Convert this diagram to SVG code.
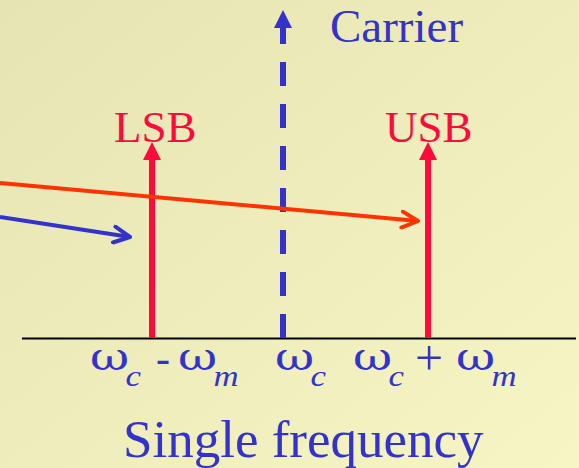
<svg xmlns="http://www.w3.org/2000/svg" width="579" height="468" viewBox="0 0 579 468">
<defs>
<linearGradient id="bg" x1="0" y1="0" x2="1" y2="1">
<stop offset="0" stop-color="#e6e4b2"/>
<stop offset="1" stop-color="#f6f5c4"/>
</linearGradient>
<marker id="openOr" viewBox="0 0 20 20" refX="18" refY="10" markerWidth="20" markerHeight="20" markerUnits="userSpaceOnUse" orient="auto">
<path d="M2,2 L18,10 L2,18" fill="none" stroke="#ff3300" stroke-width="4" stroke-linecap="round" stroke-linejoin="round"/>
</marker>
<marker id="openBl" viewBox="0 0 20 20" refX="18" refY="10" markerWidth="20" markerHeight="20" markerUnits="userSpaceOnUse" orient="auto">
<path d="M2,2 L18,10 L2,18" fill="none" stroke="#3333cc" stroke-width="4" stroke-linecap="round" stroke-linejoin="round"/>
</marker>
</defs>
<style>
.serif{font-family:"Liberation Serif","Times New Roman",serif}
.red{fill:#ff0a3c}
.blue{fill:#3333cc}
.om{font-family:"DejaVu Serif","Liberation Serif",serif;font-size:40px}
.sub{font-family:"Liberation Serif","Times New Roman",serif;font-style:italic;font-size:29px}
</style>
<rect width="579" height="468" fill="url(#bg)"/>

<g id="axis">
<line x1="22" y1="338.5" x2="576" y2="338.5" stroke="#000" stroke-width="2"/>
</g>

<g id="carrier">
<line x1="283" y1="20" x2="283" y2="338" stroke="#3333cc" stroke-width="6" stroke-dasharray="24 18"/>
<polygon points="283,10 292,28 274,28" fill="#3333cc"/>
<text class="serif blue" x="330" y="42" font-size="47">Carrier</text>
</g>

<g id="lsb">
<line x1="152" y1="338" x2="152" y2="158" stroke="#ff0a3c" stroke-width="6"/>
<polygon points="152,142 161,160 143,160" fill="#ff0a3c"/>
<text class="serif red" x="114" y="142" font-size="45">LSB</text>
</g>

<g id="usb">
<line x1="428" y1="338" x2="428" y2="158" stroke="#ff0a3c" stroke-width="6"/>
<polygon points="428,142 437,160 419,160" fill="#ff0a3c"/>
<text class="serif red" x="385" y="142" font-size="45">USB</text>
</g>

<g id="connectors">
<line x1="0" y1="183" x2="418" y2="221" stroke="#ff3300" stroke-width="4" marker-end="url(#openOr)"/>
<line x1="0" y1="217" x2="130" y2="237" stroke="#3333cc" stroke-width="4" marker-end="url(#openBl)"/>
</g>

<g id="labels" class="serif blue">
<text transform="translate(90,370) scale(1.2,1)"><tspan class="om">ω</tspan><tspan class="sub" x="29.5" dy="16">c</tspan></text>
<text x="156" y="372" font-size="42">-</text>
<text transform="translate(178,370) scale(1.2,1)"><tspan class="om">ω</tspan><tspan class="sub" x="29.5" dy="16">m</tspan></text>
<text transform="translate(275,370) scale(1.2,1)"><tspan class="om">ω</tspan><tspan class="sub" x="29.5" dy="16">c</tspan></text>
<text transform="translate(353,370) scale(1.2,1)"><tspan class="om">ω</tspan><tspan class="sub" x="29.5" dy="16">c</tspan></text>
<text x="415" y="375" font-size="50">+</text>
<text transform="translate(456,370) scale(1.2,1)"><tspan class="om">ω</tspan><tspan class="sub" x="29.5" dy="16">m</tspan></text>
<text x="123" y="457" font-size="53">Single frequency</text>
</g>
</svg>
